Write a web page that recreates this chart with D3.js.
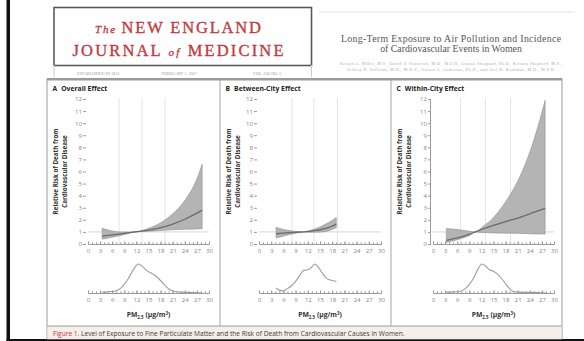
<!DOCTYPE html>
<html>
<head>
<meta charset="utf-8">
<script src="https://cdn.jsdelivr.net/npm/d3@7"></script>
<style>
  body { margin: 0; background: #fff; }
  svg { display: block; }
  .tick text { fill: #858585; font-family: "Open Sans", sans-serif; font-size: 6.1px; }
  .tick line { stroke: #9a9a9a; }
  .domain { stroke: #9a9a9a; }
</style>
</head>
<body>
<svg id="chart" width="584" height="341"></svg>
<script>
// values
const xTicks = [0, 3, 6, 9, 12, 15, 18, 21, 24, 27, 30];
const yTicks = [0, 1, 2, 3, 4, 5, 6, 7, 8, 9, 10, 11, 12];
const panelLetters = ['A', 'B', 'C'];
const panelNames = ['Overall Effect', 'Between-City Effect', 'Within-City Effect'];

// A: overall
const overallX  = [3.5, 6, 9, 11.7, 15, 18, 21, 24, 27, 28.3];
const overallRR = [0.65, 0.75, 0.88, 1.0, 1.15, 1.35, 1.65, 2.05, 2.55, 2.8];
const overallLo = [0.4, 0.55, 0.78, 1.0, 1.05, 1.12, 1.18, 1.22, 1.25, 1.27];
const overallHi = [1.3, 1.08, 0.98, 1.0, 1.3, 1.75, 2.5, 3.6, 5.4, 6.6];
const overallGrid = [7.7, 13.4, 19.1];
const overallDensX = [3.5, 5, 6.5, 8, 9, 10, 11, 12, 12.5, 13.5, 14.5, 15.5, 16.5, 17.5, 18.5, 19.5, 20.5, 21.5, 23, 25, 27, 28.3];
const overallDensY = [0.03, 0.04, 0.06, 0.15, 0.3, 0.5, 0.75, 0.95, 1.0, 0.92, 0.78, 0.7, 0.62, 0.5, 0.35, 0.2, 0.1, 0.05, 0.03, 0.02, 0.01, 0.0];

// B: between-city
const betweenX  = [4.2, 6, 8, 9.5, 11, 12.5, 14, 15.5, 17, 18, 19];
const betweenRR = [0.85, 0.9, 0.95, 0.98, 1.0, 1.05, 1.12, 1.22, 1.35, 1.48, 1.65];
const betweenLo = [0.5, 0.65, 0.82, 0.92, 1.0, 0.98, 0.98, 1.0, 1.08, 1.2, 1.35];
const betweenHi = [1.38, 1.2, 1.08, 1.03, 1.0, 1.12, 1.28, 1.5, 1.75, 1.95, 2.2];
const betweenGrid = [8.1, 13.5, 19.3];
const betweenDensX = [4.2, 5, 6, 7, 8, 9, 10, 11, 12, 13, 13.7, 14.5, 15.5, 16.5, 17.5, 18.3, 19];
const betweenDensY = [0.18, 0.1, 0.08, 0.15, 0.25, 0.4, 0.6, 0.78, 0.8, 0.9, 1.0, 0.9, 0.7, 0.52, 0.45, 0.42, 0.4];

// C: within-city
const withinX  = [3.3, 6, 9, 10.5, 12, 15, 18, 21, 24, 26, 27.8];
const withinRR = [0.3, 0.5, 0.8, 1.0, 1.2, 1.55, 1.85, 2.15, 2.5, 2.75, 2.95];
const withinLo = [0.12, 0.35, 0.7, 1.0, 0.95, 0.92, 0.9, 0.88, 0.85, 0.83, 0.82];
const withinHi = [1.28, 1.2, 1.06, 1.0, 1.35, 2.2, 3.5, 5.2, 7.6, 9.7, 11.9];
const withinGrid = [6.8, 13.0, 19.2];
const withinDensX = [3.3, 5, 6.8, 8, 9, 10, 11, 12.1, 13, 14, 15, 16, 17, 18, 19, 19.9, 21, 23, 25, 27, 28];
const withinDensY = [0.03, 0.04, 0.06, 0.15, 0.3, 0.5, 0.78, 1.0, 0.93, 0.8, 0.75, 0.65, 0.5, 0.32, 0.15, 0.05, 0.03, 0.02, 0.02, 0.01, 0.0];

const panelData = [
  { x: overallX, rr: overallRR, lo: overallLo, hi: overallHi, grid: overallGrid, dx: overallDensX, dy: overallDensY },
  { x: betweenX, rr: betweenRR, lo: betweenLo, hi: betweenHi, grid: betweenGrid, dx: betweenDensX, dy: betweenDensY },
  { x: withinX, rr: withinRR, lo: withinLo, hi: withinHi, grid: withinGrid, dx: withinDensX, dy: withinDensY }
];

// layout
const box = { left: 47, right: 562, top: 79, bottom: 339, captionTop: 326 };
const panelLeft = [47, 220, 391];
const plotRange = [[88, 209], [259, 381], [433, 554]];
const topY = [244, 99];
const densY = [293, 264];

const svg = d3.select('#chart');

// black page frame
svg.append('rect').attr('x', 6.5).attr('y', 0).attr('width', 3.5).attr('height', 341).attr('fill', '#111');
svg.append('rect').attr('x', 6.5).attr('y', 339).attr('width', 578).attr('height', 2).attr('fill', '#111');

// journal masthead
const mast = svg.append('g');
mast.append('rect').attr('x', 54).attr('y', 7.5).attr('width', 257.5).attr('height', 58)
  .attr('fill', '#fff').attr('stroke', '#5a5a5a').attr('stroke-width', 1.6);
mast.append('line').attr('x1', 54).attr('x2', 54).attr('y1', 65).attr('y2', 77).attr('stroke', '#ccc');
mast.append('line').attr('x1', 311.5).attr('x2', 311.5).attr('y1', 65).attr('y2', 77).attr('stroke', '#ccc');

const m1 = mast.append('text').attr('x', 178).attr('y', 33).attr('text-anchor', 'middle')
  .attr('fill', '#c23a3f').attr('stroke', '#c23a3f').attr('stroke-width', 0.35)
  .attr('font-family', '"Liberation Serif", serif').attr('font-size', 16.5)
  .attr('textLength', 166).attr('lengthAdjust', 'spacing');
m1.append('tspan').attr('font-style', 'italic').attr('font-size', 11).text('The ');
m1.append('tspan').text('NEW ENGLAND');

const m2 = mast.append('text').attr('x', 178).attr('y', 56).attr('text-anchor', 'middle')
  .attr('fill', '#c23a3f').attr('stroke', '#c23a3f').attr('stroke-width', 0.35)
  .attr('font-family', '"Liberation Serif", serif').attr('font-size', 16.5)
  .attr('textLength', 211).attr('lengthAdjust', 'spacing');
m2.append('tspan').text('JOURNAL ');
m2.append('tspan').attr('font-style', 'italic').attr('font-size', 11).text('of');
m2.append('tspan').text(' MEDICINE');

[['ESTABLISHED IN 1812', 98], ['FEBRUARY 1, 2007', 179], ['VOL. 356  NO. 5', 267]].forEach(([t, cx]) => {
  mast.append('text').attr('x', cx).attr('y', 74.5).attr('text-anchor', 'middle')
    .attr('fill', '#9a9a9a').attr('font-family', '"Liberation Serif", serif').attr('font-size', 4.2).text(t);
});

// article header
svg.append('line').attr('x1', 319).attr('x2', 575).attr('y1', 12).attr('y2', 12).attr('stroke', '#e2e2e2');
svg.append('text').attr('x', 451).attr('y', 42).attr('text-anchor', 'middle')
  .attr('fill', '#555').attr('font-family', '"Liberation Serif", serif').attr('font-size', 9.8)
  .attr('textLength', 220).text('Long-Term Exposure to Air Pollution and Incidence');
svg.append('text').attr('x', 451).attr('y', 52).attr('text-anchor', 'middle')
  .attr('fill', '#555').attr('font-family', '"Liberation Serif", serif').attr('font-size', 9.8)
  .text('of Cardiovascular Events in Women');
svg.append('text').attr('x', 451).attr('y', 64.5).attr('text-anchor', 'middle')
  .attr('fill', '#aaa').attr('font-family', '"Liberation Serif", serif').attr('font-size', 4.2)
  .attr('textLength', 222)
  .text('Kristin A. Miller, M.S., David S. Siscovick, M.D., M.P.H., Lianne Sheppard, Ph.D., Kristen Shepherd, M.S.,');
svg.append('text').attr('x', 451).attr('y', 70.5).attr('text-anchor', 'middle')
  .attr('fill', '#aaa').attr('font-family', '"Liberation Serif", serif').attr('font-size', 4.2)
  .attr('textLength', 208)
  .text('Jeffrey H. Sullivan, M.D., M.H.S., Garnet L. Anderson, Ph.D., and Joel D. Kaufman, M.D., M.P.H.');

// figure box
svg.append('rect').attr('x', box.left).attr('y', box.top).attr('width', box.right - box.left)
  .attr('height', box.bottom - box.top).attr('fill', '#fff').attr('stroke', '#9b9b9b').attr('stroke-width', 1);
svg.append('rect').attr('x', box.left).attr('y', box.top - 1).attr('width', box.right - box.left)
  .attr('height', 2.5).attr('fill', '#9b9b9b');
svg.append('rect').attr('x', box.left + 0.5).attr('y', box.captionTop).attr('width', box.right - box.left - 1)
  .attr('height', box.bottom - box.captionTop).attr('fill', '#f6efe9');
svg.append('line').attr('x1', box.left).attr('x2', box.right).attr('y1', box.captionTop).attr('y2', box.captionTop)
  .attr('stroke', '#9b9b9b');
[220, 391].forEach(px => {
  svg.append('line').attr('x1', px).attr('x2', px).attr('y1', box.top).attr('y2', box.captionTop)
    .attr('stroke', '#a5a5a5');
});

const cap = svg.append('text').attr('x', 53).attr('y', 335.5).attr('font-family', '"Open Sans", sans-serif')
  .attr('font-size', 6.6).attr('fill', '#3a3a3a');
cap.append('tspan').attr('fill', '#c8323a').text('Figure 1. ');
cap.append('tspan').text('Level of Exposure to Fine Particulate Matter and the Risk of Death from Cardiovascular Causes in Women.');

panelData.forEach((d, i) => {
  const g = svg.append('g');
  const L = panelLeft[i];
  const x = d3.scaleLinear().domain([0, 30]).range(plotRange[i]);
  const y = d3.scaleLinear().domain([0, 12]).range(topY);
  const yd = d3.scaleLinear().domain([0, 1]).range(densY);

  const t = g.append('text').attr('x', L + 5.5).attr('y', 90.5)
    .attr('font-family', '"Open Sans", sans-serif').attr('font-weight', 700).attr('font-size', 6.8).attr('fill', '#222');
  t.append('tspan').text(panelLetters[i]);
  t.append('tspan').attr('dx', 4).text(panelNames[i]);

  // y title
  const yl = [L + 9, L + 17.5];
  ['Relative Risk of Death from', 'Cardiovascular Disease'].forEach((s, k) => {
    g.append('text').attr('transform', `translate(${yl[k]},${(topY[0] + topY[1]) / 2}) rotate(-90)`)
      .attr('text-anchor', 'middle').attr('dy', '0.35em')
      .attr('font-family', '"Open Sans", sans-serif').attr('font-weight', 700).attr('font-size', 6.3)
      .attr('fill', '#333').text(s);
  });

  // gridlines and reference line
  g.selectAll('.grid').data(d.grid).enter().append('line')
    .attr('x1', v => x(v)).attr('x2', v => x(v)).attr('y1', y(12.1)).attr('y2', y(0))
    .attr('stroke', '#e4e4e4').attr('stroke-width', 1);
  g.append('line').attr('x1', x(0)).attr('x2', x(30)).attr('y1', y(1)).attr('y2', y(1))
    .attr('stroke', '#d6d6d6');

  const pts = d.x.map((v, k) => ({ x: v, rr: d.rr[k], lo: d.lo[k], hi: d.hi[k] }));
  const area = d3.area().x(p => x(p.x)).y0(p => y(p.lo)).y1(p => y(p.hi)).curve(d3.curveMonotoneX);
  g.append('path').datum(pts).attr('d', area).attr('fill', '#b4b4b4')
    .attr('stroke', '#8f8f8f').attr('stroke-width', 0.6);
  g.append('path').datum(pts)
    .attr('d', d3.line().x(p => x(p.x)).y(p => y(p.rr)).curve(d3.curveMonotoneX))
    .attr('fill', 'none').attr('stroke', '#6a6a6a').attr('stroke-width', 1.3);

  // axes of upper plot
  const yAxis = g.append('g').attr('transform', `translate(${x(0) - 2},0)`)
    .call(d3.axisLeft(y).tickValues(yTicks).tickSize(3).tickPadding(1));
  if (i < 2) yAxis.select('.domain').remove();
  else yAxis.select('.domain').attr('d', `M-0.5,${y(12)}V${y(0)}`);

  const drawX = (yy) => {
    g.append('g').attr('transform', `translate(0,${yy})`)
      .call(d3.axisBottom(x).tickValues(d3.range(0, 31)).tickSize(-1.6).tickFormat(''));
    g.append('g').attr('transform', `translate(0,${yy})`)
      .call(d3.axisBottom(x).tickValues(xTicks).tickSize(-2.6).tickPadding(5))
      .select('.domain').remove();
  };
  drawX(y(0));

  // density
  const dpts = d.dx.map((v, k) => ({ x: v, y: d.dy[k] }));
  g.append('path').datum(dpts)
    .attr('d', d3.line().x(p => x(p.x)).y(p => yd(p.y)).curve(d3.curveMonotoneX))
    .attr('fill', 'none').attr('stroke', '#9d9d9d').attr('stroke-width', 1.1);
  drawX(yd(0));

  const pm = g.append('text').attr('x', (plotRange[i][0] + plotRange[i][1]) / 2).attr('y', 317)
    .attr('text-anchor', 'middle').attr('font-family', '"Open Sans", sans-serif')
    .attr('font-weight', 700).attr('font-size', 6.8).attr('fill', '#333');
  pm.append('tspan').text('PM');
  pm.append('tspan').attr('font-size', 4.4).attr('dy', 1.5).text('2.5');
  pm.append('tspan').attr('dy', -1.5).text(' (\u03bcg/m');
  pm.append('tspan').attr('font-size', 4.4).attr('dy', -2.5).text('3');
  pm.append('tspan').attr('dy', 2.5).text(')');
});
</script>
</body>
</html>
